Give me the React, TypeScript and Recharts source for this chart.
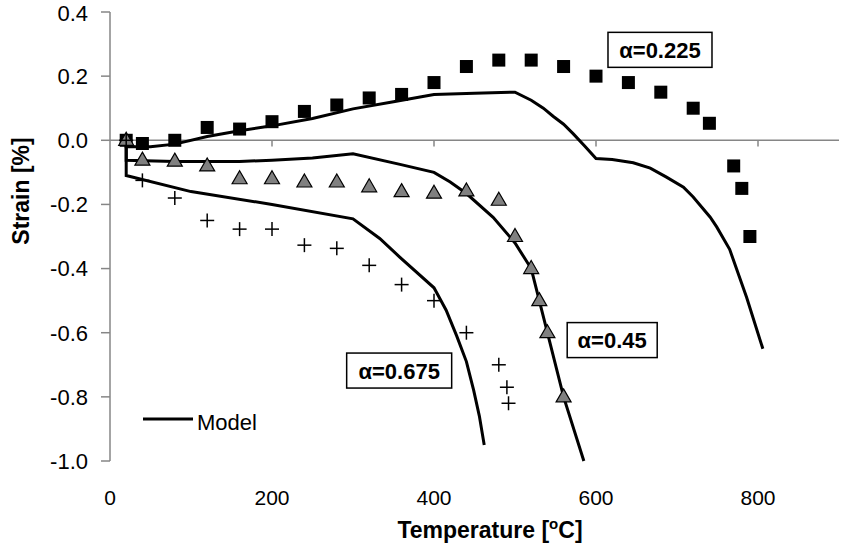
import { ComposedChart, Line, Scatter, XAxis, YAxis, ReferenceLine, ReferenceDot, Customized } from 'recharts';

// Experimental points (temperature °C, strain %)
const EXP_225_T = [20, 40, 80, 120, 160, 200, 240, 280, 320, 360, 400, 440, 480, 520, 560, 600, 640, 680, 720, 740, 770, 780, 790];
const EXP_225_S = [0, -0.01, 0, 0.04, 0.035, 0.058, 0.09, 0.11, 0.132, 0.143, 0.18, 0.23, 0.25, 0.25, 0.23, 0.2, 0.18, 0.15, 0.1, 0.053, -0.08, -0.15, -0.3];

const EXP_45_T = [20, 40, 80, 120, 160, 200, 240, 280, 320, 360, 400, 440, 480, 500, 520, 530, 540, 560];
const EXP_45_S = [0, -0.062, -0.065, -0.08, -0.12, -0.12, -0.13, -0.13, -0.145, -0.16, -0.165, -0.158, -0.187, -0.3, -0.4, -0.5, -0.6, -0.8];

const EXP_675_T = [20, 40, 80, 120, 160, 200, 240, 280, 320, 360, 400, 440, 480, 490, 492];
const EXP_675_S = [0, -0.125, -0.18, -0.25, -0.277, -0.277, -0.327, -0.337, -0.39, -0.45, -0.5, -0.6, -0.7, -0.77, -0.82];

// Model curves
const MOD_225_T = [20, 20, 50, 80, 120, 160, 200, 250, 300, 350, 400, 450, 500, 520, 535, 547, 560, 572, 586, 600, 620, 646, 667, 687, 708, 720, 741, 749, 765, 786, 806];
const MOD_225_S = [0, -0.02, -0.02, -0.012, 0.012, 0.03, 0.045, 0.068, 0.098, 0.12, 0.143, 0.147, 0.15, 0.125, 0.1, 0.075, 0.05, 0.02, -0.018, -0.057, -0.06, -0.07, -0.087, -0.115, -0.146, -0.177, -0.24, -0.27, -0.34, -0.49, -0.65];

const MOD_45_T = [20, 20, 80, 160, 200, 250, 300, 358, 400, 420, 440, 473, 500, 520, 540, 560, 585];
const MOD_45_S = [0, -0.062, -0.066, -0.066, -0.062, -0.055, -0.042, -0.075, -0.1, -0.13, -0.166, -0.24, -0.32, -0.4, -0.6, -0.8, -1.0];

const MOD_675_T = [20, 20, 100, 200, 300, 333, 358, 400, 415, 428, 440, 449, 456, 462];
const MOD_675_S = [0, -0.11, -0.16, -0.2, -0.245, -0.306, -0.365, -0.46, -0.53, -0.61, -0.69, -0.78, -0.86, -0.95];

const X_TICKS = [0, 200, 400, 600, 800];
const Y_TICKS = [-1, -0.8, -0.6, -0.4, -0.2, 0, 0.2, 0.4];

const LABELS = [
  { text: 'α=0.225', t: 679, s: 0.282, w: 104 },
  { text: 'α=0.45', t: 620, s: -0.623, w: 90 },
  { text: 'α=0.675', t: 357, s: -0.718, w: 105 },
];

const zip = (ts: number[], ss: number[]) => ts.map((t, i) => ({ t, s: ss[i] }));

const FONT = '"Liberation Sans", Arial, sans-serif';
const AXIS = '#868686';

const Square = (p: any) => <rect x={p.cx - 6.5} y={p.cy - 6.5} width={13} height={13} fill="#000" />;
const Triangle = (p: any) => (
  <polygon
    points={`${p.cx},${p.cy - 8} ${p.cx + 7.5},${p.cy + 5} ${p.cx - 7.5},${p.cy + 5}`}
    fill="#808080"
    stroke="#000"
    strokeWidth={1.2}
  />
);
const Cross = (p: any) => (
  <g stroke="#000" strokeWidth={1.5}>
    <line x1={p.cx - 7} y1={p.cy} x2={p.cx + 7} y2={p.cy} />
    <line x1={p.cx} y1={p.cy - 7} x2={p.cx} y2={p.cy + 7} />
  </g>
);

function Extras() {
  return (
    <g fontFamily={FONT}>
      <text x={490} y={538} textAnchor="middle" fontSize={23} fontWeight="bold">
        Temperature [<tspan fontSize={15} dy={-9}>o</tspan><tspan dy={9}>C]</tspan>
      </text>
      <text transform="translate(29,191) rotate(-90)" textAnchor="middle" fontSize={23} fontWeight="bold">
        Strain [%]
      </text>
      <line x1={143} y1={419} x2={193} y2={419} stroke="#000" strokeWidth={3} />
      <text x={197} y={430} fontSize={22}>Model</text>
    </g>
  );
}

export default function App() {
  return (
    <div style={{ position: 'absolute', left: 0, top: 0, background: '#fff' }}>
      <ComposedChart width={843} height={549} margin={{ top: 12, right: 4, left: 0, bottom: 0 }}>
        <XAxis
          dataKey="t"
          type="number"
          domain={[0, 900]}
          ticks={X_TICKS}
          axisLine={false}
          tickLine={false}
          tickSize={0}
          tickMargin={29}
          height={88}
          tick={{ fill: '#000', fontSize: 21, fontFamily: FONT }}
        />
        <YAxis
          type="number"
          domain={[-1, 0.4]}
          ticks={Y_TICKS}
          width={110}
          tickSize={9}
          tickMargin={13}
          axisLine={{ stroke: AXIS, strokeWidth: 1.5 }}
          tickLine={{ stroke: AXIS, strokeWidth: 1.5 }}
          tickFormatter={(v: number) => v.toFixed(1)}
          tick={{ fill: '#000', fontSize: 22, fontFamily: FONT }}
        />
        <ReferenceLine y={0} stroke={AXIS} strokeWidth={1.5} />
        {X_TICKS.slice(1).map((t) => (
          <ReferenceLine key={t} segment={[{ x: t, y: 0 }, { x: t, y: -0.019 }]} stroke={AXIS} strokeWidth={1.5} />
        ))}
        <Line data={zip(MOD_225_T, MOD_225_S)} dataKey="s" type="linear" dot={false} stroke="#000" strokeWidth={3} isAnimationActive={false} />
        <Line data={zip(MOD_45_T, MOD_45_S)} dataKey="s" type="linear" dot={false} stroke="#000" strokeWidth={3} isAnimationActive={false} />
        <Line data={zip(MOD_675_T, MOD_675_S)} dataKey="s" type="linear" dot={false} stroke="#000" strokeWidth={3} isAnimationActive={false} />
        <Scatter data={zip(EXP_225_T, EXP_225_S)} dataKey="s" shape={Square} isAnimationActive={false} />
        <Scatter data={zip(EXP_45_T, EXP_45_S)} dataKey="s" shape={Triangle} isAnimationActive={false} />
        <Scatter data={zip(EXP_675_T, EXP_675_S)} dataKey="s" shape={Cross} isAnimationActive={false} />
        {LABELS.map((l) => (
          <ReferenceDot
            key={l.text}
            x={l.t}
            y={l.s}
            r={0}
            shape={(p: any) => (
              <g>
                <rect x={p.cx - l.w / 2} y={p.cy - 17.5} width={l.w} height={35} fill="#fff" stroke="#000" strokeWidth={1.5} />
                <text x={p.cx} y={p.cy + 8} textAnchor="middle" fontFamily={FONT} fontSize={22} fontWeight="bold">
                  {l.text}
                </text>
              </g>
            )}
          />
        ))}
        <Customized component={<Extras />} />
      </ComposedChart>
    </div>
  );
}
